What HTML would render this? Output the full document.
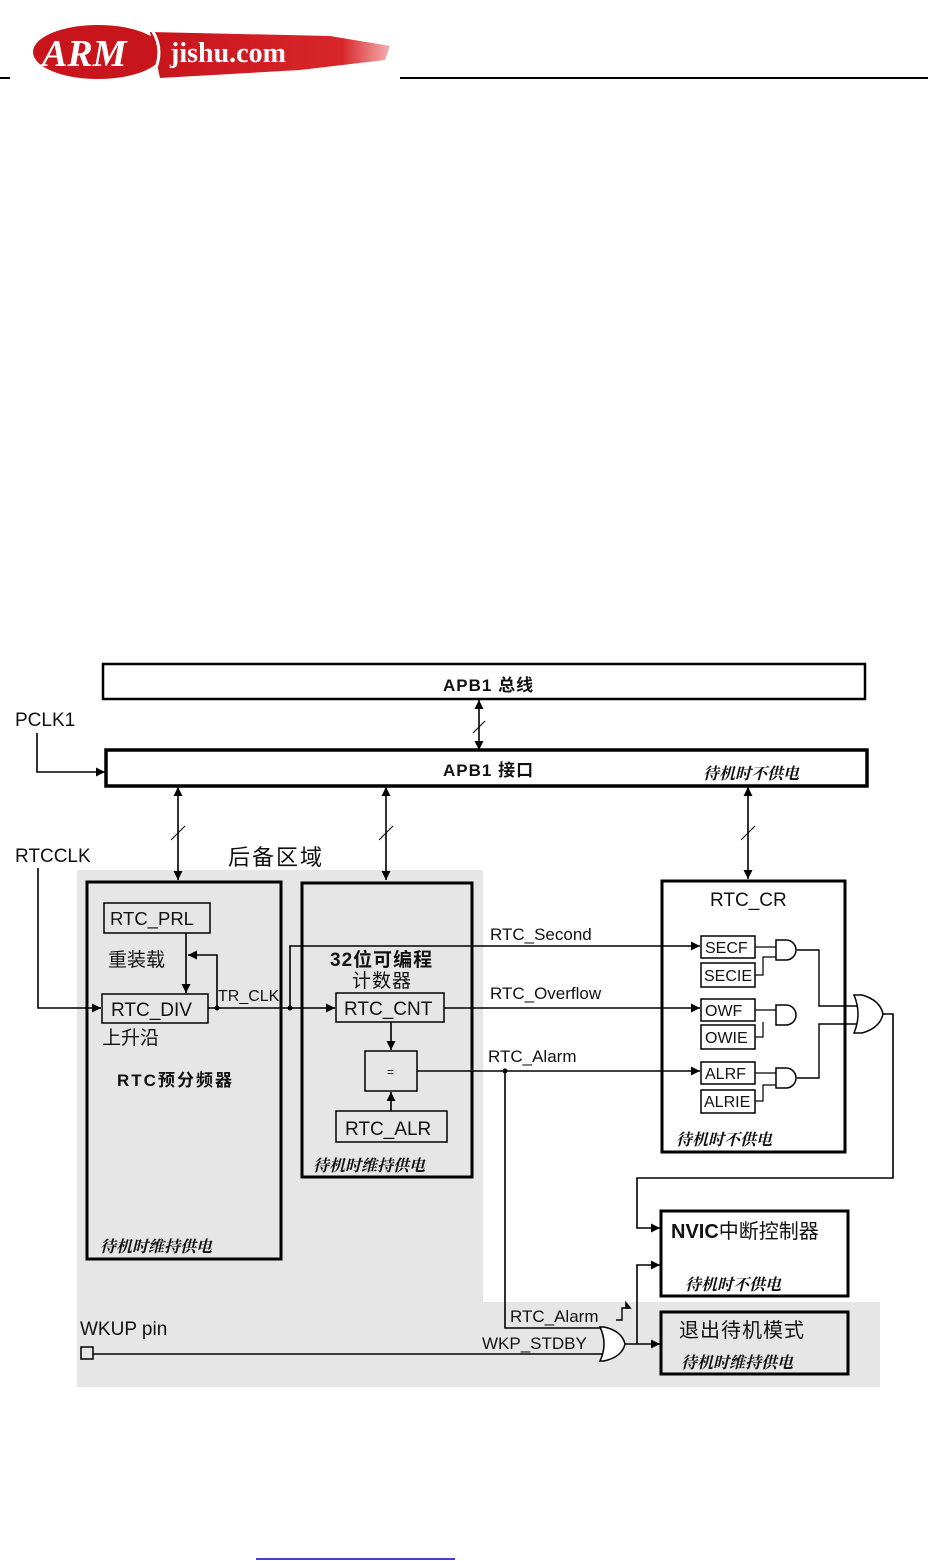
<!DOCTYPE html>
<html><head><meta charset="utf-8"><style>
html,body{margin:0;padding:0;background:#fff;width:928px;height:1561px;overflow:hidden}
svg text{font-family:"Liberation Sans","Noto Sans CJK SC",sans-serif;fill:#111}
.i{font-style:italic;font-weight:bold;font-family:"Liberation Serif","Noto Serif CJK SC",serif}
</style></head><body>
<svg width="928" height="1561" viewBox="0 0 928 1561" xmlns="http://www.w3.org/2000/svg">
<defs>
<marker id="a" viewBox="0 0 10 10" refX="10" refY="5" markerWidth="9" markerHeight="9" markerUnits="userSpaceOnUse" orient="auto-start-reverse"><path d="M0,0L10,5L0,10z" fill="#000"/></marker>
<linearGradient id="sw" x1="0" x2="1"><stop offset="0" stop-color="#c8141b"/><stop offset="0.8" stop-color="#d8262a"/><stop offset="1" stop-color="#f3b0b0"/></linearGradient>
</defs>
<line x1="0" y1="78" x2="10" y2="78" stroke="#000" stroke-width="2"/>
<line x1="400" y1="78" x2="928" y2="78" stroke="#000" stroke-width="2"/>
<path d="M150,32 L330,36 L390,46 L385,60 L300,70 L160,78 Z" fill="url(#sw)"/>
<ellipse cx="98" cy="52" rx="65" ry="27" fill="#c8141b"/>
<text x="42" y="66" style="font-family:'Liberation Serif',serif;font-weight:bold;font-style:italic;font-size:38px;fill:#fff">ARM</text>
<path d="M152,30 Q166,52 152,76" stroke="#fff" stroke-width="3" fill="none"/>
<text x="170" y="62" style="font-family:'Liberation Serif',serif;font-weight:bold;font-size:28px;fill:#fff">jishu.com</text>
<rect x="77" y="870" width="406" height="517" fill="#e6e6e6"/>
<rect x="77" y="1302" width="803" height="85" fill="#e6e6e6"/>
<g fill="none" stroke="#000">
<rect x="103" y="664" width="762" height="35" stroke-width="2.5"/>
<rect x="106" y="750" width="761" height="36" stroke-width="3.5" fill="#fff"/>
<rect x="87" y="882" width="194" height="377" stroke-width="3"/>
<rect x="302" y="883" width="170" height="294" stroke-width="3"/>
<rect x="662" y="881" width="183" height="271" stroke-width="3" fill="#fff"/>
<rect x="661" y="1211" width="187" height="85" stroke-width="3" fill="#fff"/>
<rect x="661" y="1312" width="187" height="62" stroke-width="3"/>
<g stroke-width="1.5">
<rect x="104" y="903" width="106" height="30"/>
<rect x="102" y="994" width="106" height="29"/>
<rect x="336" y="993" width="108" height="29"/>
<rect x="365" y="1051" width="52" height="40"/>
<rect x="336" y="1111" width="111" height="31"/>
<rect x="701" y="936" width="54" height="22"/>
<rect x="701" y="963" width="54" height="24"/>
<rect x="701" y="999" width="54" height="22"/>
<rect x="701" y="1025" width="54" height="24"/>
<rect x="701" y="1062" width="54" height="22"/>
<rect x="701" y="1090" width="54" height="23"/>
<rect x="81" y="1347" width="12" height="12"/>
</g>
<g stroke-width="1.6">
<path d="M479,700V750" marker-start="url(#a)" marker-end="url(#a)"/>
<path d="M178,787V880" marker-start="url(#a)" marker-end="url(#a)"/>
<path d="M386,787V880" marker-start="url(#a)" marker-end="url(#a)"/>
<path d="M748,787V879" marker-start="url(#a)" marker-end="url(#a)"/>
<path d="M473,733l12,-12M171,840l14,-14M379,840l14,-14M741,840l14,-14" stroke-width="1"/>
<path d="M37,733V772H105" marker-end="url(#a)"/>
<path d="M38,868V1008H101" marker-end="url(#a)"/>
<path d="M186,933V993" marker-end="url(#a)"/>
<path d="M217,1008V955H188" marker-end="url(#a)"/>
<path d="M208,1008H335" marker-end="url(#a)"/>
<path d="M290,1008V946H700" marker-end="url(#a)"/>
<path d="M444,1008H700" marker-end="url(#a)"/>
<path d="M417,1071H700" marker-end="url(#a)"/>
<path d="M391,1022V1050" marker-end="url(#a)"/>
<path d="M391,1111V1092" marker-end="url(#a)"/>
<path d="M505,1071V1328H608"/>
<path d="M93,1354H605"/>
<path d="M625,1344H660" marker-end="url(#a)"/>
<path d="M637,1344V1265H660" marker-end="url(#a)"/>
<path d="M883,1014H893V1178H637V1228H660" marker-end="url(#a)"/>
<path d="M797,950H819V1006H858M797,1078H819V1024H858" stroke-width="1.4"/>
<path d="M755,947H776M755,975H763V957H776M755,1010H776M755,1037H763V1022M755,1073H776M755,1101H763V1085H776" stroke-width="1.2"/>
<path d="M616,1320h6v-12h8" stroke-width="1.4"/>
<path d="M626,1303l4,5l-4,0z" fill="#000"/>
</g>
<g stroke-width="1.5" fill="#fff">
<path d="M776,940h10a10,10 0 0 1 0,20h-10z"/>
<path d="M776,1005h10a10,10 0 0 1 0,20h-10z"/>
<path d="M776,1068h10a10,10 0 0 1 0,20h-10z"/>
<path d="M854,995h8q18,5 21,19q-3,14 -21,19h-8q8,-19 0,-38z"/>
<path d="M600,1327h4q18,4 21,17q-3,13 -21,17h-4q8,-17 0,-34z"/>
</g>
</g>
<g fill="#000"><circle cx="217" cy="1008" r="2.5"/><circle cx="290" cy="1008" r="2.5"/><circle cx="505" cy="1071" r="2.5"/></g>
<text x="443" y="691" font-size="17" font-weight="bold" letter-spacing="1">APB1 总线</text>
<text x="443" y="776" font-size="17" font-weight="bold" letter-spacing="1">APB1 接口</text>
<text x="703" y="779" class="i" font-size="16">待机时不供电</text>
<text x="15" y="726" font-size="19">PCLK1</text>
<text x="15" y="862" font-size="19">RTCCLK</text>
<text x="228" y="865" font-size="22" letter-spacing="2">后备区域</text>
<text x="110" y="925" font-size="18.5">RTC_PRL</text>
<text x="108" y="966" font-size="19">重装载</text>
<text x="111" y="1016" font-size="19">RTC_DIV</text>
<text x="218" y="1001" font-size="16">TR_CLK</text>
<text x="102" y="1044" font-size="19">上升沿</text>
<text x="117" y="1086" font-size="17" font-weight="bold" letter-spacing="2">RTC预分频器</text>
<text x="100" y="1252" class="i" font-size="16">待机时维持供电</text>
<text x="330" y="966" font-size="19" font-weight="bold" letter-spacing="1">32位可编程</text>
<text x="352" y="987" font-size="19" letter-spacing="1">计数器</text>
<text x="344" y="1015" font-size="19">RTC_CNT</text>
<text x="387" y="1076" font-size="12">=</text>
<text x="345" y="1135" font-size="19">RTC_ALR</text>
<text x="313" y="1171" class="i" font-size="16">待机时维持供电</text>
<text x="490" y="940" font-size="17">RTC_Second</text>
<text x="490" y="999" font-size="17">RTC_Overflow</text>
<text x="488" y="1062" font-size="17">RTC_Alarm</text>
<text x="710" y="906" font-size="19">RTC_CR</text>
<g font-size="16"><text x="705" y="953">SECF</text><text x="704" y="981">SECIE</text><text x="705" y="1016">OWF</text><text x="705" y="1043">OWIE</text><text x="705" y="1079">ALRF</text><text x="704" y="1107">ALRIE</text></g>
<text x="676" y="1145" class="i" font-size="16">待机时不供电</text>
<text x="671" y="1238" font-size="20" font-weight="bold">NVIC<tspan font-weight="normal">中断控制器</tspan></text>
<text x="685" y="1290" class="i" font-size="16">待机时不供电</text>
<text x="679" y="1337" font-size="20" letter-spacing="1">退出待机模式</text>
<text x="681" y="1368" class="i" font-size="16">待机时维持供电</text>
<text x="80" y="1335" font-size="19">WKUP pin</text>
<text x="510" y="1322" font-size="17">RTC_Alarm</text>
<text x="482" y="1349" font-size="17">WKP_STDBY</text>
<line x1="256" y1="1559" x2="455" y2="1559" stroke="#0000cc" stroke-width="1.5"/>
</svg>
</body></html>
